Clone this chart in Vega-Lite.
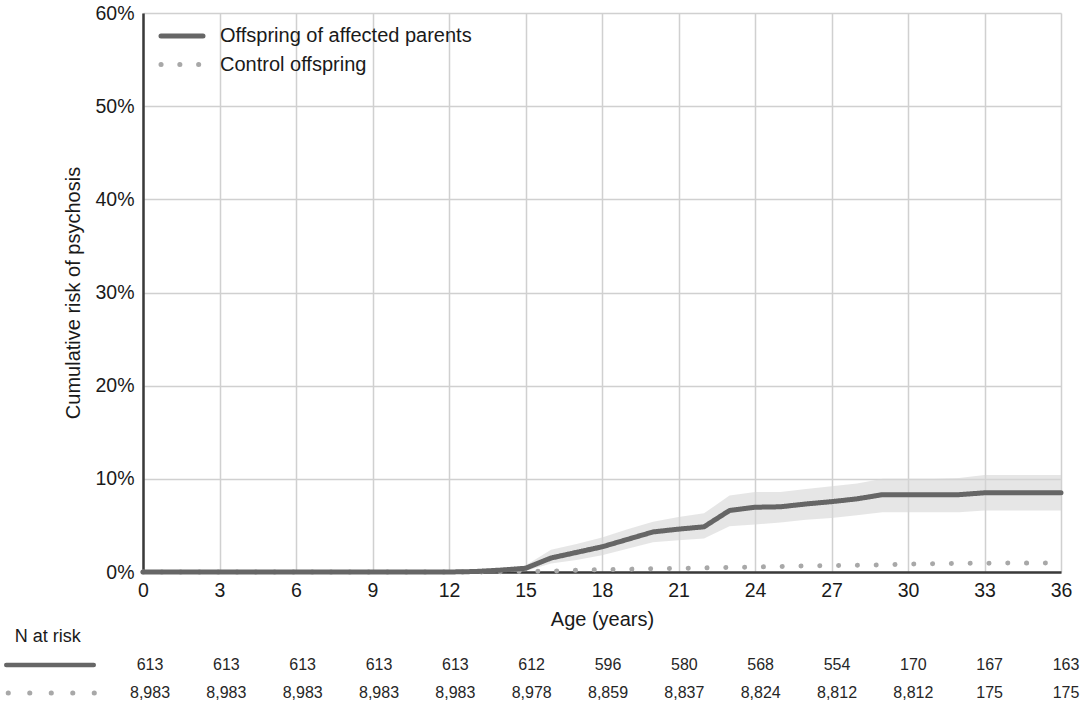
{
  "$schema": "https://vega.github.io/schema/vega-lite/v6.json",
  "width": 918,
  "height": 559,
  "autosize": {"type": "none"},
  "padding": {"left": 143, "top": 13, "right": 19, "bottom": 136},
  "background": "white",
  "config": {
    "view": {"stroke": null},
    "font": "Liberation Sans",
    "axis": {
      "domainColor": "#3a3a3a",
      "domainWidth": 2.5,
      "ticks": false,
      "gridColor": "#d0d0d0",
      "gridWidth": 1.5,
      "labelFont": "Liberation Sans",
      "labelFontSize": 19.5,
      "labelColor": "#1a1a1a",
      "labelFlush": false,
      "titleFont": "Liberation Sans",
      "titleFontSize": 20,
      "titleFontWeight": "normal",
      "titleColor": "#1a1a1a",
      "labelPadding": 9
    },
    "axisX": {"titlePadding": 10},
    "axisY": {"titlePadding": 11},
    "legend": {
      "orient": "none",
      "legendX": 26,
      "legendY": 10,
      "title": null,
      "padding": 0,
      "symbolType": "M-2,0H2",
      "symbolSize": 441,
      "symbolStrokeWidth": 5,
      "labelFont": "Liberation Sans",
      "labelFontSize": 20,
      "labelColor": "#1a1a1a",
      "labelOffset": 25,
      "labelLimit": 0,
      "rowPadding": 5.5
    }
  },
  "datasets": {
    "curves": [
      {"age": 0, "group": "Offspring of affected parents", "risk": 0},
      {"age": 1, "group": "Offspring of affected parents", "risk": 0},
      {"age": 2, "group": "Offspring of affected parents", "risk": 0},
      {"age": 3, "group": "Offspring of affected parents", "risk": 0},
      {"age": 4, "group": "Offspring of affected parents", "risk": 0},
      {"age": 5, "group": "Offspring of affected parents", "risk": 0},
      {"age": 6, "group": "Offspring of affected parents", "risk": 0},
      {"age": 7, "group": "Offspring of affected parents", "risk": 0},
      {"age": 8, "group": "Offspring of affected parents", "risk": 0},
      {"age": 9, "group": "Offspring of affected parents", "risk": 0},
      {"age": 10, "group": "Offspring of affected parents", "risk": 0},
      {"age": 11, "group": "Offspring of affected parents", "risk": 0},
      {"age": 12, "group": "Offspring of affected parents", "risk": 0},
      {"age": 13, "group": "Offspring of affected parents", "risk": 0.0005},
      {"age": 14, "group": "Offspring of affected parents", "risk": 0.002},
      {"age": 15, "group": "Offspring of affected parents", "risk": 0.004},
      {"age": 16, "group": "Offspring of affected parents", "risk": 0.015},
      {"age": 17, "group": "Offspring of affected parents", "risk": 0.021},
      {"age": 18, "group": "Offspring of affected parents", "risk": 0.027},
      {"age": 19, "group": "Offspring of affected parents", "risk": 0.035},
      {"age": 20, "group": "Offspring of affected parents", "risk": 0.043},
      {"age": 21, "group": "Offspring of affected parents", "risk": 0.046},
      {"age": 22, "group": "Offspring of affected parents", "risk": 0.0485},
      {"age": 23, "group": "Offspring of affected parents", "risk": 0.066},
      {"age": 24, "group": "Offspring of affected parents", "risk": 0.0695},
      {"age": 25, "group": "Offspring of affected parents", "risk": 0.07},
      {"age": 26, "group": "Offspring of affected parents", "risk": 0.073},
      {"age": 27, "group": "Offspring of affected parents", "risk": 0.0755},
      {"age": 28, "group": "Offspring of affected parents", "risk": 0.0785},
      {"age": 29, "group": "Offspring of affected parents", "risk": 0.083},
      {"age": 30, "group": "Offspring of affected parents", "risk": 0.083},
      {"age": 31, "group": "Offspring of affected parents", "risk": 0.083},
      {"age": 32, "group": "Offspring of affected parents", "risk": 0.083},
      {"age": 33, "group": "Offspring of affected parents", "risk": 0.085},
      {"age": 34, "group": "Offspring of affected parents", "risk": 0.085},
      {"age": 35, "group": "Offspring of affected parents", "risk": 0.085},
      {"age": 36, "group": "Offspring of affected parents", "risk": 0.085},
      {"age": 0, "group": "Control offspring", "risk": 0},
      {"age": 1, "group": "Control offspring", "risk": 0},
      {"age": 2, "group": "Control offspring", "risk": 0},
      {"age": 3, "group": "Control offspring", "risk": 0},
      {"age": 4, "group": "Control offspring", "risk": 0},
      {"age": 5, "group": "Control offspring", "risk": 0},
      {"age": 6, "group": "Control offspring", "risk": 0},
      {"age": 7, "group": "Control offspring", "risk": 0},
      {"age": 8, "group": "Control offspring", "risk": 0},
      {"age": 9, "group": "Control offspring", "risk": 0},
      {"age": 10, "group": "Control offspring", "risk": 0},
      {"age": 11, "group": "Control offspring", "risk": 0},
      {"age": 12, "group": "Control offspring", "risk": 0},
      {"age": 13, "group": "Control offspring", "risk": 0},
      {"age": 14, "group": "Control offspring", "risk": 0.0003},
      {"age": 15, "group": "Control offspring", "risk": 0.0006},
      {"age": 16, "group": "Control offspring", "risk": 0.001},
      {"age": 17, "group": "Control offspring", "risk": 0.0018},
      {"age": 18, "group": "Control offspring", "risk": 0.0025},
      {"age": 19, "group": "Control offspring", "risk": 0.003},
      {"age": 20, "group": "Control offspring", "risk": 0.0035},
      {"age": 21, "group": "Control offspring", "risk": 0.004},
      {"age": 22, "group": "Control offspring", "risk": 0.0044},
      {"age": 23, "group": "Control offspring", "risk": 0.0048},
      {"age": 24, "group": "Control offspring", "risk": 0.0053},
      {"age": 25, "group": "Control offspring", "risk": 0.006},
      {"age": 26, "group": "Control offspring", "risk": 0.0065},
      {"age": 27, "group": "Control offspring", "risk": 0.0068},
      {"age": 28, "group": "Control offspring", "risk": 0.0072},
      {"age": 29, "group": "Control offspring", "risk": 0.0077},
      {"age": 30, "group": "Control offspring", "risk": 0.0085},
      {"age": 31, "group": "Control offspring", "risk": 0.0088},
      {"age": 32, "group": "Control offspring", "risk": 0.0093},
      {"age": 33, "group": "Control offspring", "risk": 0.0095},
      {"age": 34, "group": "Control offspring", "risk": 0.0096},
      {"age": 35, "group": "Control offspring", "risk": 0.0096},
      {"age": 36, "group": "Control offspring", "risk": 0.0097}
    ],
    "band": [
      {"age": 0, "lo": 0, "hi": 0},
      {"age": 12, "lo": 0, "hi": 0},
      {"age": 13, "lo": 0, "hi": 0.001},
      {"age": 14, "lo": 0, "hi": 0.003},
      {"age": 15, "lo": 0.001, "hi": 0.007},
      {"age": 16, "lo": 0.009, "hi": 0.024},
      {"age": 17, "lo": 0.013, "hi": 0.03},
      {"age": 18, "lo": 0.018, "hi": 0.037},
      {"age": 19, "lo": 0.025, "hi": 0.046},
      {"age": 20, "lo": 0.032, "hi": 0.054},
      {"age": 21, "lo": 0.034, "hi": 0.059},
      {"age": 22, "lo": 0.036, "hi": 0.063},
      {"age": 23, "lo": 0.049, "hi": 0.082},
      {"age": 24, "lo": 0.051, "hi": 0.086},
      {"age": 25, "lo": 0.053, "hi": 0.086},
      {"age": 26, "lo": 0.056, "hi": 0.089},
      {"age": 27, "lo": 0.058, "hi": 0.092},
      {"age": 28, "lo": 0.061, "hi": 0.095},
      {"age": 29, "lo": 0.064, "hi": 0.1},
      {"age": 30, "lo": 0.064, "hi": 0.1},
      {"age": 31, "lo": 0.064, "hi": 0.1},
      {"age": 32, "lo": 0.064, "hi": 0.101},
      {"age": 33, "lo": 0.066, "hi": 0.104},
      {"age": 34, "lo": 0.066, "hi": 0.104},
      {"age": 35, "lo": 0.066, "hi": 0.104},
      {"age": 36, "lo": 0.066, "hi": 0.104}
    ],
    "atrisk": [
      {"row": "affected", "column": "0", "n": 613},
      {"row": "affected", "column": "3", "n": 613},
      {"row": "affected", "column": "6", "n": 613},
      {"row": "affected", "column": "9", "n": 613},
      {"row": "affected", "column": "12", "n": 613},
      {"row": "affected", "column": "15", "n": 612},
      {"row": "affected", "column": "18", "n": 596},
      {"row": "affected", "column": "21", "n": 580},
      {"row": "affected", "column": "24", "n": 568},
      {"row": "affected", "column": "27", "n": 554},
      {"row": "affected", "column": "30", "n": 170},
      {"row": "affected", "column": "33", "n": 167},
      {"row": "affected", "column": "36", "n": 163},
      {"row": "control", "column": "0", "n": 8983},
      {"row": "control", "column": "3", "n": 8983},
      {"row": "control", "column": "6", "n": 8983},
      {"row": "control", "column": "9", "n": 8983},
      {"row": "control", "column": "12", "n": 8983},
      {"row": "control", "column": "15", "n": 8978},
      {"row": "control", "column": "18", "n": 8859},
      {"row": "control", "column": "21", "n": 8837},
      {"row": "control", "column": "24", "n": 8824},
      {"row": "control", "column": "27", "n": 8812},
      {"row": "control", "column": "30", "n": 8812},
      {"row": "control", "column": "33", "n": 175},
      {"row": "control", "column": "36", "n": 175}
    ],
    "tablelabels": [
      {"row": "header", "column": "label", "text": "N at risk"},
      {"row": "affected", "column": "label", "text": ""},
      {"row": "control", "column": "label", "text": ""}
    ]
  },
  "layer": [
    {
      "encoding": {
        "x": {"field": "age", "type": "quantitative", "scale": {"domain": [0, 36], "nice": false, "zero": false},
          "axis": {"values": [0, 3, 6, 9, 12, 15, 18, 21, 24, 27, 30, 33, 36], "title": "Age (years)"}},
        "y": {"field": "risk", "type": "quantitative", "scale": {"domain": [0, 0.6], "nice": false},
          "axis": {"values": [0, 0.1, 0.2, 0.3, 0.4, 0.5, 0.6], "format": ".0%", "title": "Cumulative risk of psychosis"}},
        "color": {"field": "group", "type": "nominal",
          "scale": {"domain": ["Offspring of affected parents", "Control offspring"], "range": ["#666666", "#a8a8a8"]},
          "legend": {"title": null, "encode": {"symbols": {"update": {"strokeCap": {"value": "round"}, "strokeDash": {"signal": "datum.value === 'Control offspring' ? [0.1, 21.35] : [1, 0]"}}}}}},
        "strokeDash": {"field": "group", "type": "nominal",
          "scale": {"domain": ["Offspring of affected parents", "Control offspring"], "range": [[1, 0], [0.1, 18.7]]},
          "legend": {"title": null, "encode": {"symbols": {"update": {"strokeCap": {"value": "round"}, "strokeDash": {"signal": "datum.value === 'Control offspring' ? [0.1, 21.35] : [1, 0]"}}}}}}
      },
      "layer": [
        {
          "data": {"name": "band"},
          "mark": {"type": "area", "color": "#d6d6d6", "opacity": 0.6},
          "encoding": {
            "y": {"field": "lo", "type": "quantitative", "scale": {"domain": [0, 0.6], "nice": false},
              "axis": {"values": [0, 0.1, 0.2, 0.3, 0.4, 0.5, 0.6], "format": ".0%", "title": "Cumulative risk of psychosis"}},
            "y2": {"field": "hi"},
            "color": null,
            "strokeDash": null
          }
        },
        {
          "data": {"name": "curves"},
          "transform": [{"filter": "datum.group === 'Control offspring'"}],
          "mark": {"type": "line", "strokeWidth": 5, "strokeCap": "round", "strokeJoin": "round"}
        },
        {
          "data": {"name": "curves"},
          "transform": [{"filter": "datum.group === 'Offspring of affected parents'"}],
          "mark": {"type": "line", "strokeWidth": 5, "strokeCap": "round", "strokeJoin": "round"}
        }
      ]
    },
    {
      "encoding": {
        "x": {"field": "column", "type": "nominal", "axis": null,
          "scale": {"type": "point", "domain": ["label", "0", "3", "6", "9", "12", "15", "18", "21", "24", "27", "30", "33", "36"], "range": [-69.33, 923], "padding": 0}},
        "y": {"field": "row", "type": "nominal", "axis": null,
          "scale": {"type": "point", "domain": ["header", "affected", "control"], "range": [624, 680], "padding": 0}}
      },
      "layer": [
        {
          "data": {"name": "tablelabels"},
          "transform": [{"filter": "datum.row === 'affected'"}],
          "mark": {"type": "point", "shape": "M-1,0H1", "size": 7656, "filled": false, "opacity": 1, "stroke": "#666666", "strokeWidth": 4.5, "strokeCap": "round", "xOffset": -23.67}
        },
        {
          "data": {"name": "tablelabels"},
          "transform": [{"filter": "datum.row === 'control'"}],
          "mark": {"type": "point", "shape": "M-1,0H1", "size": 7430, "filled": false, "opacity": 1, "stroke": "#a8a8a8", "strokeWidth": 5, "strokeCap": "round", "strokeDash": [0.1, 21.4], "xOffset": -22.35}
        },
        {
          "data": {"name": "tablelabels"},
          "transform": [{"filter": "datum.row === 'header'"}],
          "mark": {"type": "text", "align": "left", "baseline": "middle", "dx": -59, "fontSize": 18, "font": "Liberation Sans", "color": "#1a1a1a"},
          "encoding": {"text": {"field": "text"}}
        },
        {
          "data": {"name": "atrisk"},
          "mark": {"type": "text", "align": "center", "baseline": "middle", "fontSize": 16, "font": "Liberation Sans", "color": "#262626"},
          "encoding": {"text": {"field": "n", "type": "quantitative", "format": ","}}
        }
      ]
    }
  ],
  "resolve": {"scale": {"x": "independent", "y": "independent"}}
}
